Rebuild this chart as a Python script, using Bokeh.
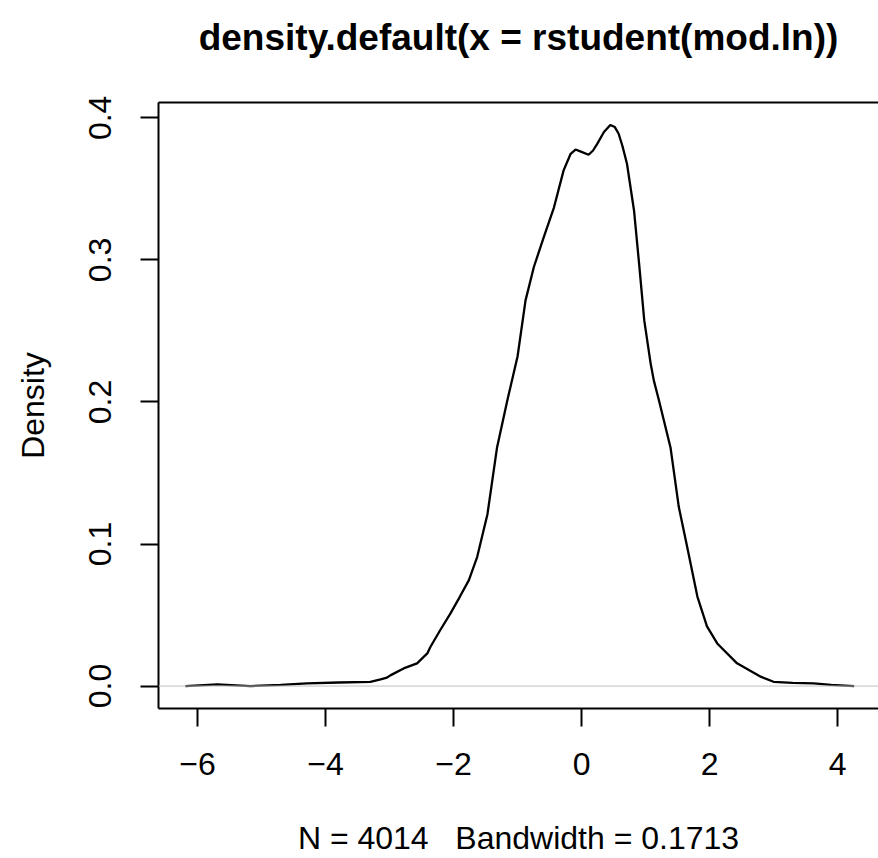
from bokeh.plotting import figure
from bokeh.models import Range1d, LinearAxis, FixedTicker, Span
from bokeh.embed import file_html
from bokeh.resources import INLINE

# density estimate
x_vals = [-6.19, -5.69, -5.17, -4.70, -4.29, -3.80, -3.30, -3.14, -3.04, -2.98,
          -2.78, -2.57, -2.41, -2.36, -2.20, -2.05, -1.90, -1.76, -1.63, -1.47,
          -1.32, -1.16, -1.00, -0.875, -0.745, -0.59, -0.43, -0.28, -0.17, -0.094,
          0.00, 0.11, 0.18, 0.245, 0.35, 0.45, 0.52, 0.58, 0.64, 0.71, 0.82, 0.90, 0.98,
          1.08, 1.13, 1.21, 1.39, 1.52, 1.65, 1.81, 1.96, 2.12, 2.43,
          2.80, 3.00, 3.30, 3.63, 3.90, 4.26]
dens = [0.0000, 0.0012, 0.0000, 0.0008, 0.0019, 0.0025, 0.0030, 0.0047, 0.0060, 0.0077,
        0.0124, 0.0160, 0.0230, 0.0277, 0.0400, 0.0510, 0.0630, 0.0746, 0.0910, 0.1210,
        0.1680, 0.2010, 0.2320, 0.2715, 0.2950, 0.3160, 0.3370, 0.3630, 0.3747, 0.3777,
        0.3760, 0.3740, 0.3770, 0.3817, 0.3900, 0.3950, 0.3935, 0.3888, 0.3800, 0.3677,
        0.3348, 0.2970, 0.2574,
        0.2270, 0.2150, 0.2010, 0.1680, 0.1260, 0.0980, 0.0630, 0.0420, 0.0300, 0.0160,
        0.0066, 0.0030, 0.0022, 0.0019, 0.0008, 0.0000]

x_ticks = [-6, -4, -2, 0, 2, 4]
x_tick_labels = ["\u22126", "\u22124", "\u22122", "0", "2", "4"]
y_ticks = [0.0, 0.1, 0.2, 0.3, 0.4]
y_tick_labels = ["0.0", "0.1", "0.2", "0.3", "0.4"]

title_text = "density.default(x = rstudent(mod.ln))"
sub_text = "N = 4014\u00a0\u00a0\u00a0Bandwidth = 0.1713"
y_label = "Density"

FONT = "Liberation Sans"

p = figure(width=878, height=858, output_backend="svg", toolbar_location=None,
           x_range=Range1d(-6.61, 4.64), y_range=Range1d(-0.0158, 0.4108),
           x_axis_location=None, y_axis_location=None,
           min_border_left=158, min_border_right=0, min_border_top=102,
           min_border_bottom=150)

p.background_fill_color = "white"
p.border_fill_color = "white"
p.outline_line_color = None
p.xgrid.visible = False
p.ygrid.visible = False

def style_axis(ax):
    ax.axis_line_color = "black"
    ax.axis_line_width = 2
    ax.major_tick_line_color = "black"
    ax.major_tick_line_width = 2
    ax.major_tick_in = 0
    ax.major_tick_out = 18
    ax.minor_tick_in = 0
    ax.minor_tick_out = 0
    ax.major_label_text_font = FONT
    ax.major_label_text_font_size = "32px"
    ax.major_label_text_color = "black"
    ax.axis_label_text_font = FONT
    ax.axis_label_text_font_size = "32px"
    ax.axis_label_text_font_style = "normal"
    ax.axis_label_text_color = "black"

bottom = LinearAxis(ticker=FixedTicker(ticks=x_ticks), axis_label=sub_text,
                    major_label_overrides=dict(zip(x_ticks, x_tick_labels)))
style_axis(bottom)
bottom.major_label_standoff = 26
bottom.axis_label_standoff = 42
p.add_layout(bottom, "below")

left = LinearAxis(ticker=FixedTicker(ticks=y_ticks), axis_label=y_label,
                  major_label_overrides=dict(zip(y_ticks, y_tick_labels)),
                  major_label_orientation="vertical")
style_axis(left)
left.major_label_standoff = 29
left.axis_label_standoff = 36
p.add_layout(left, "left")

# top side of the box, carrying the main title
top = LinearAxis(ticker=FixedTicker(ticks=[]), axis_label=title_text)
style_axis(top)
top.major_tick_out = 0
top.major_label_standoff = 0
top.major_label_text_font_size = "1px"
top.axis_label_standoff = 45
top.axis_label_text_font_size = "37px"
top.axis_label_text_font_style = "bold"
p.add_layout(top, "above")

zero = Span(location=0, dimension="width", line_color="#BEBEBE", line_width=1)
p.add_layout(zero)

p.line(x_vals, dens, line_color="black", line_width=2.3)

open("out.html", "w").write(file_html(p, INLINE))
